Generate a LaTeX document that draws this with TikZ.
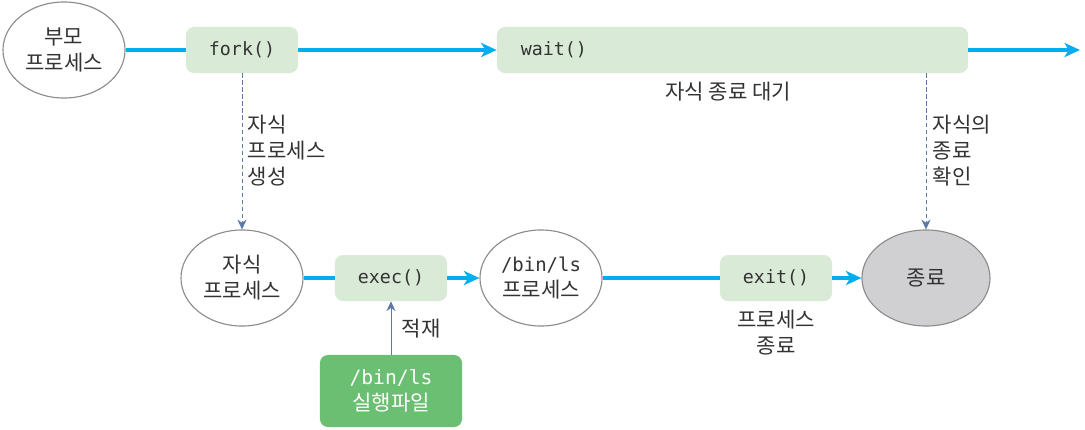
\documentclass[tikz,border=0pt]{standalone}
\usepackage{fontspec}
\setmainfont{Noto Sans CJK KR}
\setmonofont{DejaVu Sans Mono}
\usetikzlibrary{shapes.geometric,arrows.meta}
\definecolor{flowblue}{HTML}{00AEEF}
\definecolor{noteblue}{HTML}{5A7BA5}
\definecolor{callgreen}{HTML}{D9EBD6}
\definecolor{filegreen}{HTML}{6ABF72}
\definecolor{edgegray}{HTML}{8C8C8C}
\definecolor{endgray}{HTML}{D0D0D2}
\definecolor{textgray}{HTML}{333333}

\begin{document}
\begin{tikzpicture}[x=0.025cm,y=-0.025cm,
      every node/.style={text=textgray,font=\fontsize{15}{18.5}\selectfont},
      proc/.style={ellipse,draw=edgegray,line width=0.8pt,fill=white,
        inner sep=0pt,minimum width=3.05cm,minimum height=2.4cm,align=center},
      call/.style={rounded corners=0.2cm,fill=callgreen,minimum width=2.8cm,
        minimum height=1.15cm,font=\ttfamily\fontsize{13}{16}\selectfont},
      flow/.style={draw=flowblue,line width=2.8pt},
      tip/.style={-{Stealth[length=11pt,width=10pt,inset=3pt]}},
      note/.style={draw=noteblue,line width=0.6pt,-{Stealth[length=7pt,width=6.5pt]}}]
    \useasboundingbox (0,0) rectangle (1085,429);
    \node[proc] (parent) at (64,50) {부모\\프로세스};
    \node[call] (fork) at (242,50) {fork()};
    \node[call,minimum width=11.775cm,text width=10.575cm,inner xsep=0.6cm,align=left]
      (wait) at (732.5,50) {wait()};
    \coordinate (end) at (1080,50);
    \node (waitlbl) at (728,92) {자식 종료 대기};
    \node[proc] (child) at (242,278) {자식\\프로세스};
    \node[call] (exec) at (391,278) {exec()};
    \node[proc] (binls) at (541,278) {{\ttfamily\fontsize{13.5}{16}\selectfont /bin/ls}\\프로세스};
    \node[call] (exit) at (776,278) {exit()};
    \node[proc,fill=endgray,minimum width=3.2cm] (term) at (926,278) {종료};
    \node[rounded corners=0.2cm,fill=filegreen,text=white,minimum width=3.55cm,
      minimum height=1.8cm,align=center] (file) at (391,391)
      {{\ttfamily\fontsize{14}{17}\selectfont /bin/ls}\\실행파일};
    \node[anchor=west,align=left] (forklbl) at (243,151) {자식\\프로세스\\생성};
    \node[anchor=west,align=left] (waitchk) at (928,151) {자식의\\종료\\확인};
    \node (loadlbl) at (421,329) {적재};
    \node[align=center] (exitlbl) at (776,333) {프로세스\\종료};
    \draw[flow] (parent) -- (fork);
    \draw[flow,tip] (fork) -- (wait);
    \draw[flow,tip] (wait) -- (end);
    \draw[flow] (child) -- (exec);
    \draw[flow,tip] (exec) -- (binls);
    \draw[flow] (binls) -- (exit);
    \draw[flow,tip] (exit) -- (term);
    \draw[note,dash pattern=on 3pt off 2pt] (fork) -- (child);
    \draw[note,dash pattern=on 3pt off 2pt] (wait.south -| term) -- (term.north);
    \draw[note] (file) -- (exec);
  \end{tikzpicture}
\end{document}
